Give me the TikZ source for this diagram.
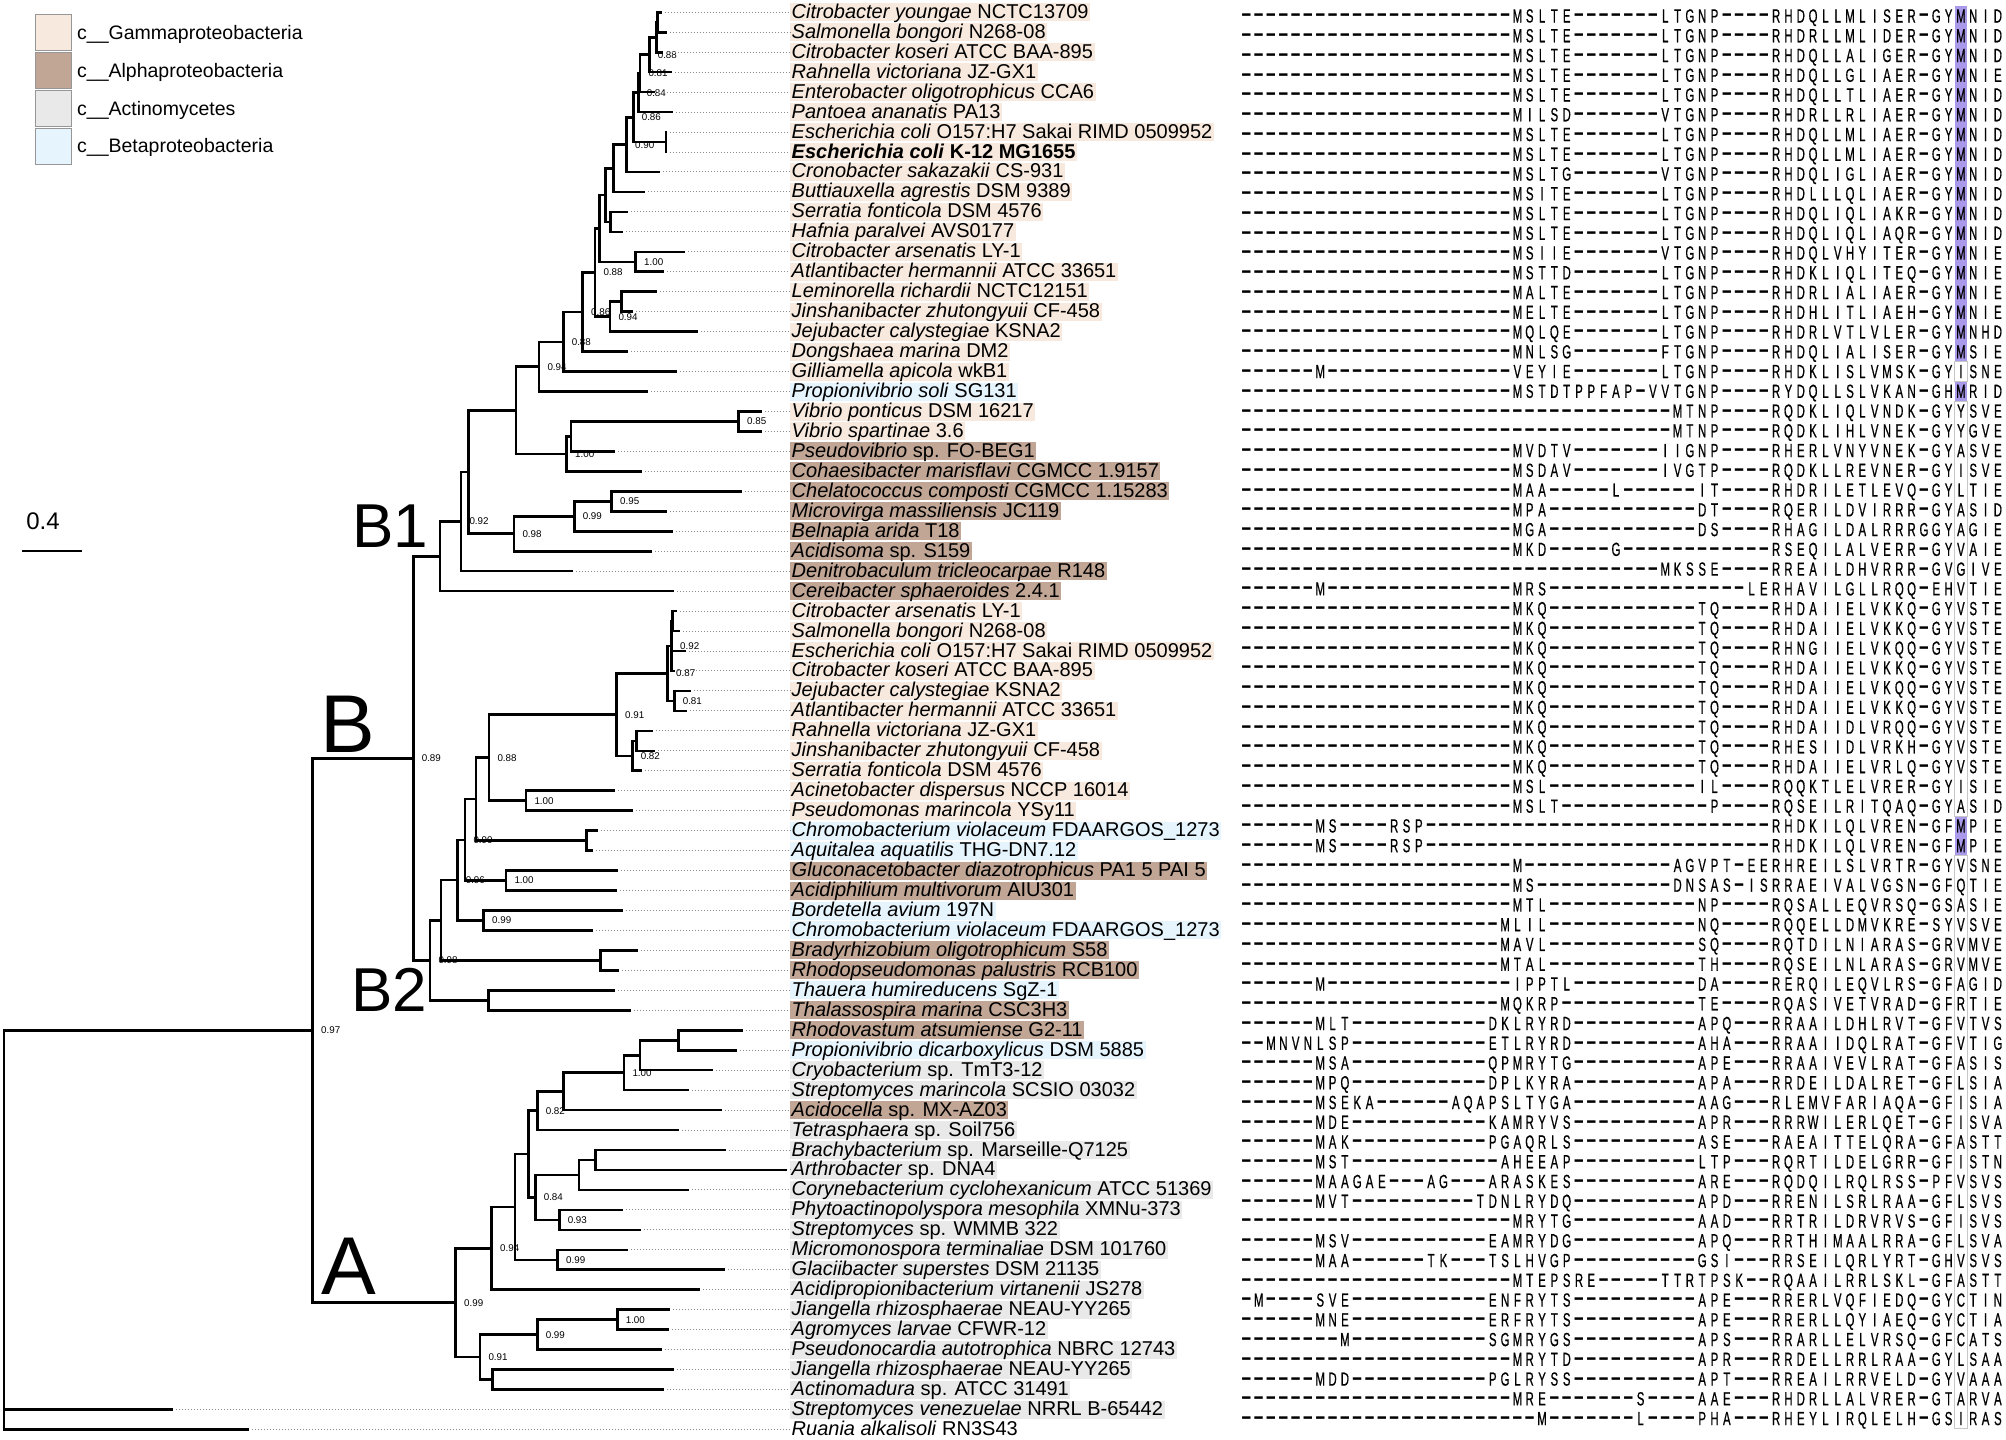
\documentclass[tikz,border=0pt]{standalone}
\usepackage{fontspec}
\setmainfont{Liberation Sans}
\newfontfamily\alnfont[FakeStretch=0.6,FakeBold=0.6]{Liberation Sans}
\usepackage{graphicx}
\usetikzlibrary{calc}
\definecolor{gam}{RGB}{247,233,221}
\definecolor{alp}{RGB}{193,166,149}
\definecolor{act}{RGB}{233,233,233}
\definecolor{bet}{RGB}{230,244,253}
\definecolor{hl}{RGB}{170,152,235}
\definecolor{dotc}{RGB}{140,140,140}
\newlength\cw \setlength\cw{12.32pt}
\ExplSyntaxOn
\cs_new:Npn \DD #1 { \prg_replicate:nn {#1} {-} }
\ExplSyntaxOff
\def\seqloop#1{\ifx\relax#1\else\seqch{#1}\expandafter\seqloop\fi}
\def\seqch#1{\if-#1\makebox[\cw]{\raisebox{1.6pt}{\normalfont\bfseries\scalebox{1.75}[1.1]{-}}}\else\makebox[\cw]{#1}\fi}
\newcommand\seqrow[1]{\edef\seqtmp{#1}\expandafter\seqloop\seqtmp\relax}
\newcommand\ry[1]{\fpeval{12.3+19.96*(#1-1)}}
\newcommand\rab[1]{\fpeval{22.5+19.755*(#1-1)}}
\newcommand\ra[1]{\fpeval{15.7+19.755*(#1-1)}}
\newcommand\tn[4]{\path let \p1=($(#3)!0.5!(#4)$) in coordinate (#1) at (#2pt,\y1);}
\newcommand\ed[2]{\foreach \c in {#2}{\draw[br] (#1) |- (\c);}}
\newcommand\bs[2]{\node[bsl] (bs-#1) at ([xshift=8.3pt]#1) {#2};}
\newcommand\lab[4]{\node[lab,fill=#2] (l-#1) at (790,\ry{#1}) {\textit{#3} #4};}
\newcommand\aln[2]{\node[aln] (s-#1) at (1240,\rab{#1}) {\seqrow{#2}};}
\begin{document}
\begin{tikzpicture}[x=1pt,y=-1pt,
  br/.style={line width=2.6pt,line join=miter,black},
  dotl/.style={dotc,line width=1pt,dash pattern=on 1pt off 2pt},
  bsl/.style={anchor=west,inner sep=0pt,font=\fontsize{9.8}{10}\selectfont},
  lab/.style={anchor=west,inner xsep=1.5pt,inner ysep=0pt,text height=15pt,text depth=3pt,font=\fontsize{20}{20}\selectfont},
  aln/.style={anchor=base west,inner sep=0pt,text=black,font=\alnfont\fontsize{19}{19}\selectfont},
  legbox/.style={draw={rgb,255:red,150;green,150;blue,150},line width=1pt,minimum width=36pt,minimum height=36pt,inner sep=0pt},
  legt/.style={anchor=base west,inner sep=0pt,font=\fontsize{19.5}{20}\selectfont},
  big/.style={anchor=base west,inner sep=0pt}]
\useasboundingbox (0,0) rectangle (2006,1440);

% legend
\node[legbox,fill=gam] (k1) at (53.7,32.5) {};
\node[legbox,fill=alp] (k2) at (53.7,70.8) {};
\node[legbox,fill=act] (k3) at (53.7,108.7) {};
\node[legbox,fill=bet] (k4) at (53.7,146.3) {};
\node[legt] (kt1) at (77,39) {c\_\_Gammaproteobacteria};
\node[legt] (kt2) at (77,77.3) {c\_\_Alphaproteobacteria};
\node[legt] (kt3) at (77,115.2) {c\_\_Actinomycetes};
\node[legt] (kt4) at (77,152.8) {c\_\_Betaproteobacteria};

% scale bar
\coordinate (sb1) at (22,551);
\coordinate (sb2) at (82,551);
\draw[br] (sb1) -- (sb2);
\node[font=\fontsize{24}{24}\selectfont,inner sep=0pt] (sbl) at (43,521) {0.4};

% tips
\foreach \i/\x in {1/661.7,2/666.7,3/662.7,4/671.7,5/655,6/673.3,7/667,8/667,9/660,10/645,
 11/628.3,12/623.3,13/685,14/664.3,15/657.3,16/633.3,17/698.3,18/628.3,19/676.7,20/648.3,
 21/762.3,22/761.7,23/615,24/641.7,25/741.7,26/666.7,27/672.7,28/652.3,29/572.7,30/674.3,
 31/676.7,32/680,33/685.7,34/675,35/690.7,36/686.7,37/652.7,38/655,39/641.7,40/615,
 41/633.3,42/597.7,43/592.7,44/618.3,45/617.3,46/622.7,47/593.3,48/638.3,49/619.3,50/615,
 51/631,52/743.3,53/736.7,54/713.3,55/689.3,56/721.7,57/679,58/725.7,59/787.3,60/689,
 61/623.3,62/640.7,63/628.3,64/725,65/700,66/670,67/668.7,68/661.7,69/674.3,70/664.3,
 71/173.3,72/249.3}
 {\coordinate (t-\i) at (\x,\ry{\i});}

% internal nodes (clade B1)
\tn{na}{657.7}{t-1}{t-2}
\tn{nb}{656.7}{na}{t-3}
\tn{nc}{649.3}{nb}{t-4}
\tn{nd}{640}{nc}{t-5}
\tn{ne}{638.3}{nd}{t-6}
\tn{nh}{666}{t-7}{t-8}
\tn{ng}{633.3}{ne}{nh}
\tn{ni}{626.7}{ng}{t-9}
\tn{nj}{613.3}{ni}{t-10}
\tn{nl}{610.7}{t-11}{t-12}
\tn{nk}{605.3}{nj}{nl}
\tn{nn}{635.7}{t-13}{t-14}
\tn{nm}{599.3}{nk}{nn}
\tn{nq}{621.7}{t-15}{t-16}
\tn{nr}{610}{nq}{t-17}
\tn{no}{595}{nm}{nr}
\tn{ns}{582.7}{no}{t-18}
\tn{nt}{563.3}{ns}{t-19}
\tn{nu}{539}{nt}{t-20}
\tn{nxv}{738.7}{t-21}{t-22}
\tn{nyv}{571}{nxv}{t-23}
\tn{nw}{566.7}{nyv}{t-24}
\tn{nv}{516}{nu}{nw}
\tn{naa}{611.7}{t-25}{t-26}
\tn{nbb}{574.3}{naa}{t-27}
\tn{ncc}{514}{nbb}{t-28}
\tn{ndd}{468.3}{nv}{ncc}
\tn{nee}{461}{ndd}{t-29}
\tn{nff}{440}{nee}{t-30}
% clade B2
\tn{p1}{672.7}{t-31}{t-32}
\tn{p2}{671.7}{p1}{t-34}
\tn{p5}{674.3}{t-35}{t-36}
\tn{p4}{667.7}{p2}{p5}
\tn{p8}{636.7}{t-37}{t-38}
\tn{p7}{632.3}{p8}{t-39}
\tn{p6}{616.7}{p4}{p7}
\tn{p10}{526}{t-40}{t-41}
\tn{p9}{489}{p6}{p10}
\tn{p12}{586.7}{t-42}{t-43}
\tn{p11}{476}{p9}{p12}
\tn{p14}{506}{t-44}{t-45}
\tn{p13}{465}{p11}{p14}
\tn{p16}{483.7}{t-46}{t-47}
\tn{p15}{457.3}{p13}{p16}
\tn{p18}{600.7}{t-48}{t-49}
\tn{p17}{441}{p15}{p18}
\tn{p20}{488.3}{t-50}{t-51}
\tn{p19}{430}{p17}{p20}
\tn{BB}{413.3}{nff}{p19}
% clade A
\tn{q1}{678.3}{t-52}{t-53}
\tn{q2}{640}{q1}{t-54}
\tn{q3}{624}{q2}{t-55}
\tn{q4}{563.3}{q3}{t-56}
\tn{q5}{537.3}{q4}{t-57}
\tn{q8}{595.3}{t-58}{t-59}
\tn{q9}{579}{q8}{t-60}
\tn{q10}{559.3}{t-61}{t-62}
\tn{q11}{535.3}{q9}{q10}
\tn{q6}{528.7}{q5}{q11}
\tn{q12}{557.7}{t-63}{t-64}
\tn{q13}{515}{q6}{q12}
\tn{q14}{491.7}{q13}{t-65}
\tn{q15}{617.3}{t-66}{t-67}
\tn{q16}{537.3}{q15}{t-68}
\tn{q17}{492.7}{t-69}{t-70}
\tn{q18}{480}{q16}{q17}
\tn{AA}{455.7}{q14}{q18}
\tn{AB}{312.7}{BB}{AA}
\tn{root}{4}{AB}{t-72}

% branches
\ed{na}{t-1,t-2}\ed{nb}{na,t-3}\ed{nc}{nb,t-4}\ed{nd}{nc,t-5}\ed{ne}{nd,t-6}
\ed{nh}{t-7,t-8}\ed{ng}{ne,nh}\ed{ni}{ng,t-9}\ed{nj}{ni,t-10}\ed{nl}{t-11,t-12}
\ed{nk}{nj,nl}\ed{nn}{t-13,t-14}\ed{nm}{nk,nn}\ed{nq}{t-15,t-16}\ed{nr}{nq,t-17}
\ed{no}{nm,nr}\ed{ns}{no,t-18}\ed{nt}{ns,t-19}\ed{nu}{nt,t-20}\ed{nxv}{t-21,t-22}
\ed{nyv}{nxv,t-23}\ed{nw}{nyv,t-24}\ed{nv}{nu,nw}\ed{naa}{t-25,t-26}\ed{nbb}{naa,t-27}
\ed{ncc}{nbb,t-28}\ed{ndd}{nv,ncc}\ed{nee}{ndd,t-29}\ed{nff}{nee,t-30}
\ed{p1}{t-31,t-32}\ed{p2}{p1,t-33,t-34}\ed{p5}{t-35,t-36}\ed{p4}{p2,p5}\ed{p8}{t-37,t-38}
\ed{p7}{p8,t-39}\ed{p6}{p4,p7}\ed{p10}{t-40,t-41}\ed{p9}{p6,p10}\ed{p12}{t-42,t-43}
\ed{p11}{p9,p12}\ed{p14}{t-44,t-45}\ed{p13}{p11,p14}\ed{p16}{t-46,t-47}\ed{p15}{p13,p16}
\ed{p18}{t-48,t-49}\ed{p17}{p15,p18}\ed{p20}{t-50,t-51}\ed{p19}{p17,p20}\ed{BB}{nff,p19}
\ed{q1}{t-52,t-53}\ed{q2}{q1,t-54}\ed{q3}{q2,t-55}\ed{q4}{q3,t-56}\ed{q5}{q4,t-57}
\ed{q8}{t-58,t-59}\ed{q9}{q8,t-60}\ed{q10}{t-61,t-62}\ed{q11}{q9,q10}\ed{q6}{q5,q11}
\ed{q12}{t-63,t-64}\ed{q13}{q6,q12}\ed{q14}{q13,t-65}\ed{q15}{t-66,t-67}\ed{q16}{q15,t-68}
\ed{q17}{t-69,t-70}\ed{q18}{q16,q17}\ed{AA}{q14,q18}\ed{AB}{BB,AA}\ed{root}{AB,t-71,t-72}

% support values
\bs{nc}{0.88}\bs{nd}{0.81}\bs{ne}{0.84}\bs{ng}{0.86}\bs{ni}{0.90}\bs{nn}{1.00}\bs{nr}{0.94}
\bs{no}{0.88}\bs{ns}{0.86}\bs{nt}{0.88}\bs{nu}{0.94}\bs{nxv}{0.85}\bs{nw}{1.00}\bs{naa}{0.95}
\bs{nbb}{0.99}\bs{ncc}{0.98}\bs{nee}{0.92}\bs{p2}{0.92}\bs{p4}{0.87}\bs{p5}{0.81}\bs{p6}{0.91}
\bs{p7}{0.82}\bs{p9}{0.88}\bs{p10}{1.00}\bs{p13}{0.90}\bs{p14}{1.00}\bs{p15}{0.96}\bs{p16}{0.99}
\bs{p19}{0.98}\bs{BB}{0.89}\bs{q3}{1.00}\bs{q5}{0.82}\bs{q10}{0.93}\bs{q11}{0.84}\bs{q12}{0.99}
\bs{q14}{0.94}\bs{q15}{1.00}\bs{q16}{0.99}\bs{q18}{0.91}\bs{AA}{0.99}\bs{AB}{0.97}

% clade letters
\node[big,font=\fontsize{62}{62}\selectfont] (cB1) at (352,547) {B1};
\node[big,font=\fontsize{82}{82}\selectfont] (cB) at (320,752) {B};
\node[big,font=\fontsize{62}{62}\selectfont] (cB2) at (351,1011) {B2};
\node[big,font=\fontsize{82}{82}\selectfont] (cA) at (321,1294) {A};

% labels
\lab{1}{gam}{Citrobacter youngae}{NCTC13709}
\lab{2}{gam}{Salmonella bongori}{N268-08}
\lab{3}{gam}{Citrobacter koseri}{ATCC BAA-895}
\lab{4}{gam}{Rahnella victoriana}{JZ-GX1}
\lab{5}{gam}{Enterobacter oligotrophicus}{CCA6}
\lab{6}{gam}{Pantoea ananatis}{PA13}
\lab{7}{gam}{Escherichia coli}{O157:H7 Sakai RIMD 0509952}
\node[lab,fill=gam] (l-8) at (790,\ry{8}) {\bfseries\textit{Escherichia coli} K-12 MG1655};
\lab{9}{gam}{Cronobacter sakazakii}{CS-931}
\lab{10}{gam}{Buttiauxella agrestis}{DSM 9389}
\lab{11}{gam}{Serratia fonticola}{DSM 4576}
\lab{12}{gam}{Hafnia paralvei}{AVS0177}
\lab{13}{gam}{Citrobacter arsenatis}{LY-1}
\lab{14}{gam}{Atlantibacter hermannii}{ATCC 33651}
\lab{15}{gam}{Leminorella richardii}{NCTC12151}
\lab{16}{gam}{Jinshanibacter zhutongyuii}{CF-458}
\lab{17}{gam}{Jejubacter calystegiae}{KSNA2}
\lab{18}{gam}{Dongshaea marina}{DM2}
\lab{19}{gam}{Gilliamella apicola}{wkB1}
\lab{20}{bet}{Propionivibrio soli}{SG131}
\lab{21}{gam}{Vibrio ponticus}{DSM 16217}
\lab{22}{gam}{Vibrio spartinae}{3.6}
\lab{23}{alp}{Pseudovibrio}{sp. FO-BEG1}
\lab{24}{alp}{Cohaesibacter marisflavi}{CGMCC 1.9157}
\lab{25}{alp}{Chelatococcus composti}{CGMCC 1.15283}
\lab{26}{alp}{Microvirga massiliensis}{JC119}
\lab{27}{alp}{Belnapia arida}{T18}
\lab{28}{alp}{Acidisoma}{sp. S159}
\lab{29}{alp}{Denitrobaculum tricleocarpae}{R148}
\lab{30}{alp}{Cereibacter sphaeroides}{2.4.1}
\lab{31}{gam}{Citrobacter arsenatis}{LY-1}
\lab{32}{gam}{Salmonella bongori}{N268-08}
\lab{33}{gam}{Escherichia coli}{O157:H7 Sakai RIMD 0509952}
\lab{34}{gam}{Citrobacter koseri}{ATCC BAA-895}
\lab{35}{gam}{Jejubacter calystegiae}{KSNA2}
\lab{36}{gam}{Atlantibacter hermannii}{ATCC 33651}
\lab{37}{gam}{Rahnella victoriana}{JZ-GX1}
\lab{38}{gam}{Jinshanibacter zhutongyuii}{CF-458}
\lab{39}{gam}{Serratia fonticola}{DSM 4576}
\lab{40}{gam}{Acinetobacter dispersus}{NCCP 16014}
\lab{41}{gam}{Pseudomonas marincola}{YSy11}
\lab{42}{bet}{Chromobacterium violaceum}{FDAARGOS\_1273}
\lab{43}{bet}{Aquitalea aquatilis}{THG-DN7.12}
\lab{44}{alp}{Gluconacetobacter diazotrophicus}{PA1 5 PAI 5}
\lab{45}{alp}{Acidiphilium multivorum}{AIU301}
\lab{46}{bet}{Bordetella avium}{197N}
\lab{47}{bet}{Chromobacterium violaceum}{FDAARGOS\_1273}
\lab{48}{alp}{Bradyrhizobium oligotrophicum}{S58}
\lab{49}{alp}{Rhodopseudomonas palustris}{RCB100}
\lab{50}{bet}{Thauera humireducens}{SgZ-1}
\lab{51}{alp}{Thalassospira marina}{CSC3H3}
\lab{52}{alp}{Rhodovastum atsumiense}{G2-11}
\lab{53}{bet}{Propionivibrio dicarboxylicus}{DSM 5885}
\lab{54}{act}{Cryobacterium}{sp. TmT3-12}
\lab{55}{act}{Streptomyces marincola}{SCSIO 03032}
\lab{56}{alp}{Acidocella}{sp. MX-AZ03}
\lab{57}{act}{Tetrasphaera}{sp. Soil756}
\lab{58}{act}{Brachybacterium}{sp. Marseille-Q7125}
\lab{59}{act}{Arthrobacter}{sp. DNA4}
\lab{60}{act}{Corynebacterium cyclohexanicum}{ATCC 51369}
\lab{61}{act}{Phytoactinopolyspora mesophila}{XMNu-373}
\lab{62}{act}{Streptomyces}{sp. WMMB 322}
\lab{63}{act}{Micromonospora terminaliae}{DSM 101760}
\lab{64}{act}{Glaciibacter superstes}{DSM 21135}
\lab{65}{act}{Acidipropionibacterium virtanenii}{JS278}
\lab{66}{act}{Jiangella rhizosphaerae}{NEAU-YY265}
\lab{67}{act}{Agromyces larvae}{CFWR-12}
\lab{68}{act}{Pseudonocardia autotrophica}{NBRC 12743}
\lab{69}{act}{Jiangella rhizosphaerae}{NEAU-YY265}
\lab{70}{act}{Actinomadura}{sp. ATCC 31491}
\lab{71}{act}{Streptomyces venezuelae}{NRRL B-65442}
\lab{72}{none}{Ruania alkalisoli}{RN3S43}

% leader lines
\foreach \i in {1,...,72}{\draw[dotl] ([xshift=3pt]t-\i) -- (l-\i.west);}

% highlighted column
\fill[hl] (1954.56,{\ra{1}-9.9}) rectangle (1966.88,{\ra{18}+9.9});
\fill[hl] (1954.56,{\ra{20}-9.9}) rectangle (1966.88,{\ra{20}+9.9});
\fill[hl] (1954.56,{\ra{42}-9.9}) rectangle (1966.88,{\ra{43}+9.9});
\draw[black!22,line width=0.6pt] (1954.56,{\ra{19}-9.9}) rectangle (1966.88,{\ra{19}+9.9});
\draw[black!22,line width=0.6pt] (1954.56,{\ra{21}-9.9}) rectangle (1966.88,{\ra{41}+9.9});
\draw[black!22,line width=0.6pt] (1954.56,{\ra{44}-9.9}) rectangle (1966.88,{\ra{72}+9.9});

% alignment
\aln{1}{\DD{22}MSLTE\DD{7}LTGNP\DD{4}RHDQLLMLISER-GYMNID}
\aln{2}{\DD{22}MSLTE\DD{7}LTGNP\DD{4}RHDRLLMLIDER-GYMNID}
\aln{3}{\DD{22}MSLTE\DD{7}LTGNP\DD{4}RHDQLLALIGER-GYMNID}
\aln{4}{\DD{22}MSLTE\DD{7}LTGNP\DD{4}RHDQLLGLIAER-GYMNIE}
\aln{5}{\DD{22}MSLTE\DD{7}LTGNP\DD{4}RHDQLLTLIAER-GYMNID}
\aln{6}{\DD{22}MILSD\DD{7}VTGNP\DD{4}RHDRLLRLIAER-GYMNID}
\aln{7}{\DD{22}MSLTE\DD{7}LTGNP\DD{4}RHDQLLMLIAER-GYMNID}
\aln{8}{\DD{22}MSLTE\DD{7}LTGNP\DD{4}RHDQLLMLIAER-GYMNID}
\aln{9}{\DD{22}MSLTG\DD{7}VTGNP\DD{4}RHDQLIGLIAER-GYMNID}
\aln{10}{\DD{22}MSITE\DD{7}LTGNP\DD{4}RHDLLLQLIAER-GYMNID}
\aln{11}{\DD{22}MSLTE\DD{7}LTGNP\DD{4}RHDQLIQLIAKR-GYMNID}
\aln{12}{\DD{22}MSLTE\DD{7}LTGNP\DD{4}RHDQLIQLIAQR-GYMNID}
\aln{13}{\DD{22}MSIIE\DD{7}VTGNP\DD{4}RHDQLVHYITER-GYMNIE}
\aln{14}{\DD{22}MSTTD\DD{7}LTGNP\DD{4}RHDKLIQLITEQ-GYMNIE}
\aln{15}{\DD{22}MALTE\DD{7}LTGNP\DD{4}RHDRLIALIAER-GYMNIE}
\aln{16}{\DD{22}MELTE\DD{7}LTGNP\DD{4}RHDHLITLIAEH-GYMNIE}
\aln{17}{\DD{22}MQLQE\DD{7}LTGNP\DD{4}RHDRLVTLVLER-GYMNHD}
\aln{18}{\DD{22}MNLSG\DD{7}FTGNP\DD{4}RHDQLIALISER-GYMSIE}
\aln{19}{\DD{6}M\DD{15}VEYIE\DD{7}LTGNP\DD{4}RHDKLISLVMSK-GYISNE}
\aln{20}{\DD{22}MSTDTPPFAP-VVTGNP\DD{4}RYDQLLSLVKAN-GHMRID}
\aln{21}{\DD{35}MTNP\DD{4}RQDKLIQLVNDK-GYYSVE}
\aln{22}{\DD{35}MTNP\DD{4}RQDKLIHLVNEK-GYYGVE}
\aln{23}{\DD{22}MVDTV\DD{7}IIGNP\DD{4}RHERLVNYVNEK-GYASVE}
\aln{24}{\DD{22}MSDAV\DD{7}IVGTP\DD{4}RQDKLLREVNER-GYISVE}
\aln{25}{\DD{22}MAA\DD{5}L\DD{6}IT\DD{4}RHDRILETLEVQ-GYLTIE}
\aln{26}{\DD{22}MPA\DD{12}DT\DD{4}RQERILDVIRRR-GYASID}
\aln{27}{\DD{22}MGA\DD{12}DS\DD{4}RHAGILDALRRRGGYAGIE}
\aln{28}{\DD{22}MKD\DD{5}G\DD{12}RSEQILALVERR-GYVAIE}
\aln{29}{\DD{34}MKSSE\DD{4}RREAILDHVRRR-GVGIVE}
\aln{30}{\DD{6}M\DD{15}MRS\DD{16}LERHAVILGLLRQQ-EHVTIE}
\aln{31}{\DD{22}MKQ\DD{12}TQ\DD{4}RHDAIIELVKKQ-GYVSTE}
\aln{32}{\DD{22}MKQ\DD{12}TQ\DD{4}RHDAIIELVKKQ-GYVSTE}
\aln{33}{\DD{22}MKQ\DD{12}TQ\DD{4}RHNGIIELVKQQ-GYVSTE}
\aln{34}{\DD{22}MKQ\DD{12}TQ\DD{4}RHDAIIELVKKQ-GYVSTE}
\aln{35}{\DD{22}MKQ\DD{12}TQ\DD{4}RHDAIIELVKQQ-GYVSTE}
\aln{36}{\DD{22}MKQ\DD{12}TQ\DD{4}RHDAIIELVKKQ-GYVSTE}
\aln{37}{\DD{22}MKQ\DD{12}TQ\DD{4}RHDAIIDLVRQQ-GYVSTE}
\aln{38}{\DD{22}MKQ\DD{12}TQ\DD{4}RHESIIDLVRKH-GYVSTE}
\aln{39}{\DD{22}MKQ\DD{12}TQ\DD{4}RHDAIIELVRLQ-GYVSTE}
\aln{40}{\DD{22}MSL\DD{12}IL\DD{4}RQQKTLELVRER-GYISIE}
\aln{41}{\DD{22}MSLT\DD{12}P\DD{4}RQSEILRITQAQ-GYASID}
\aln{42}{\DD{6}MS\DD{4}RSP\DD{28}RHDKILQLVREN-GFMPIE}
\aln{43}{\DD{6}MS\DD{4}RSP\DD{28}RHDKILQLVREN-GFMPIE}
\aln{44}{\DD{22}M\DD{12}AGVPT-EERHREILSLVRTR-GYVSNE}
\aln{45}{\DD{22}MS\DD{11}DNSAS-ISRRAEIVALVGSN-GFQTIE}
\aln{46}{\DD{22}MTL\DD{12}NP\DD{4}RQSALLEQVRSQ-GSASIE}
\aln{47}{\DD{21}MLIL\DD{12}NQ\DD{4}RQQELLDMVKRE-SYVSVE}
\aln{48}{\DD{21}MAVL\DD{12}SQ\DD{4}RQTDILNIARAS-GRVMVE}
\aln{49}{\DD{21}MTAL\DD{12}TH\DD{4}RQSEILNLARAS-GRVMVE}
\aln{50}{\DD{6}M\DD{15}IPPTL\DD{10}DA\DD{4}RERQILEQVLRS-GFAGID}
\aln{51}{\DD{21}MQKRP\DD{11}TE\DD{4}RQASIVETVRAD-GFRTIE}
\aln{52}{\DD{6}MLT\DD{11}DKLRYRD\DD{10}APQ\DD{3}RRAAILDHLRVT-GFVTVS}
\aln{53}{\DD{2}MNVNLSP\DD{11}ETLRYRD\DD{10}AHA\DD{3}RRAAIIDQLRAT-GFVTIG}
\aln{54}{\DD{6}MSA\DD{11}QPMRYTG\DD{10}APE\DD{3}RRAAIVEVLRAT-GFASIS}
\aln{55}{\DD{6}MPQ\DD{11}DPLKYRA\DD{10}APA\DD{3}RRDEILDALRET-GFLSIA}
\aln{56}{\DD{6}MSEKA\DD{6}AQAPSLTYGA\DD{10}AAG\DD{3}RLEMVFARIAQA-GFISIA}
\aln{57}{\DD{6}MDE\DD{11}KAMRYVS\DD{10}APR\DD{3}RRRWILERLQET-GFISVA}
\aln{58}{\DD{6}MAK\DD{11}PGAQRLS\DD{10}ASE\DD{3}RAEAITTELQRA-GFASTT}
\aln{59}{\DD{6}MST\DD{12}AHEEAP\DD{10}LTP\DD{3}RQRTILDELGRR-GFISTN}
\aln{60}{\DD{6}MAAGAE\DD{3}AG\DD{3}ARASKES\DD{10}ARE\DD{3}RQDQILRQLRSS-PFVSVS}
\aln{61}{\DD{6}MVT\DD{10}TDNLRYDQ\DD{10}APD\DD{3}RRENILSRLRAA-GFLSVS}
\aln{62}{\DD{22}MRYTG\DD{10}AAD\DD{3}RRTRILDRVRVS-GFISVS}
\aln{63}{\DD{6}MSV\DD{11}EAMRYDG\DD{10}APQ\DD{3}RRTHIMAALRRA-GFLSVA}
\aln{64}{\DD{6}MAA\DD{6}TK\DD{3}TSLHVGP\DD{10}GSI\DD{3}RRSEILQRLYRT-GHVSVS}
\aln{65}{\DD{22}MTEPSRE\DD{5}TTRTPSK\DD{2}RQAAILRRLSKL-GFASTT}
\aln{66}{-M\DD{4}SVE\DD{11}ENFRYTS\DD{10}APE\DD{3}RRERLVQFIEDQ-GYCTIN}
\aln{67}{\DD{6}MNE\DD{11}ERFRYTS\DD{10}APE\DD{3}RRERLLQYIAEQ-GYCTIA}
\aln{68}{\DD{8}M\DD{11}SGMRYGS\DD{10}APS\DD{3}RRARLLELVRSQ-GFCATS}
\aln{69}{\DD{22}MRYTD\DD{10}APR\DD{3}RRDELLRRLRAA-GYLSAA}
\aln{70}{\DD{6}MDD\DD{11}PGLRYSS\DD{10}APT\DD{3}RREAILRRVELD-GYVAAA}
\aln{71}{\DD{22}MRE\DD{7}S\DD{4}AAE\DD{3}RHDRLLALVRER-GTARVA}
\aln{72}{\DD{24}M\DD{7}L\DD{4}PHA\DD{3}RHEYLIRQLELH-GSIRAS}
\end{tikzpicture}
\end{document}
